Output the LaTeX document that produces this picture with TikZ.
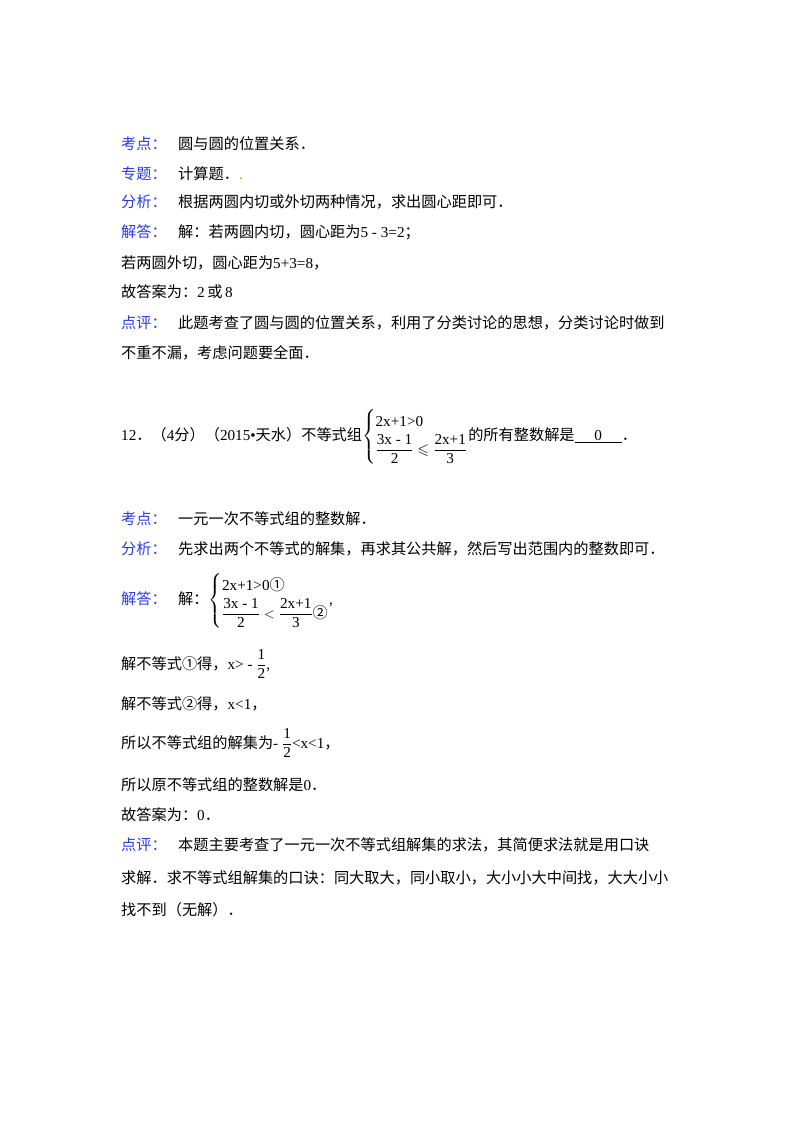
\documentclass[tikz,border=0pt]{standalone}
\usepackage{amsmath,amssymb}
\usepackage{fontspec}
\setmainfont{Liberation Serif}
\newfontfamily\cjk{Noto Sans CJK SC}
\newcommand\C[1]{{\cjk #1}}
\newcommand\D{{\cjk ．}}
\newcommand\T[1]{\text{#1}}
\newcommand\sys[2]{$\renewcommand\arraystretch{1.5}\left\{\begin{array}{@{}l@{}}#1\\ #2\end{array}\right.$}
\definecolor{lab}{RGB}{40,60,230}
\begin{document}
\begin{tikzpicture}[x=1pt,y=-1pt,every node/.style={anchor=base west,inner sep=0,font=\fontsize{15.2}{17}\selectfont},
lbl/.style={text=lab}]
\useasboundingbox (0,0) rectangle (800,1132);
\node[lbl] (a1) at (121,149) {\C{考点：}};
\node (a2) at (178,149) {\C{圆与圆的位置关系}\D};
\node[lbl] (b1) at (121,179) {\C{专题：}};
\node (b2) at (178,179) {\C{计算题}\D\textcolor{orange}{.}};
\node[lbl] (c1) at (121,207) {\C{分析：}};
\node (c2) at (178,207) {\C{根据两圆内切或外切两种情况，求出圆心距即可}\D};
\node[lbl] (d1) at (121,237) {\C{解答：}};
\node (d2) at (178,237) {\C{解：若两圆内切，圆心距为}5 - 3=2\C{；}};
\node (e) at (121,268) {\C{若两圆外切，圆心距为}5+3=8\C{，}};
\node (f) at (121,297) {\C{故答案为：}2\,\C{或}\,8};
\node[lbl] (g1) at (121,328) {\C{点评：}};
\node (g2) at (178,328) {\C{此题考查了圆与圆的位置关系，利用了分类讨论的思想，分类讨论时做到}};
\node (h) at (121,358) {\C{不重不漏，考虑问题要全面}\D};
\node (q) at (121,440) {12\D\C{（}4\C{分）（}2015\textbullet\C{天水）不等式组}\sys{\T{2x+1>0}}{\dfrac{\T{3x - 1}}{\T{2}}\leqslant\dfrac{\T{2x+1}}{\T{3}}}\C{的所有整数解是}\underline{\hspace{1.3em}0\hspace{1.3em}}\D};
\node[lbl] (i1) at (121,524) {\C{考点：}};
\node (i2) at (178,524) {\C{一元一次不等式组的整数解}\D};
\node[lbl] (j1) at (121,554) {\C{分析：}};
\node (j2) at (178,554) {\C{先求出两个不等式的解集，再求其公共解，然后写出范围内的整数即可}\D};
\node[lbl] (k1) at (121,604) {\C{解答：}};
\node (k2) at (178,604) {\C{解：}\sys{\T{2x+1>0\C{①}}}{\dfrac{\T{3x - 1}}{\T{2}}<\dfrac{\T{2x+1}}{\T{3}}\T{\C{②}}}\T{,}};
\node (l) at (121,669) {\C{解不等式①得，}x> - $\dfrac{\T{1}}{\T{2}}$,};
\node (m) at (121,709) {\C{解不等式②得，}x<1\C{，}};
\node (n) at (121,748) {\C{所以不等式组的解集为}- $\dfrac{\T{1}}{\T{2}}$<x<1\C{，}};
\node (o) at (121,790) {\C{所以原不等式组的整数解是}0\D};
\node (p) at (121,820) {\C{故答案为：}0\D};
\node[lbl] (r1) at (121,850) {\C{点评：}};
\node (r2) at (178,850) {\C{本题主要考查了一元一次不等式组解集的求法，其简便求法就是用口诀}};
\node (s) at (121,883) {\C{求解．求不等式组解集的口诀：同大取大，同小取小，大小小大中间找，大大小小}};
\node (t) at (121,915) {\C{找不到（无解）}\D};
\end{tikzpicture}
\end{document}
